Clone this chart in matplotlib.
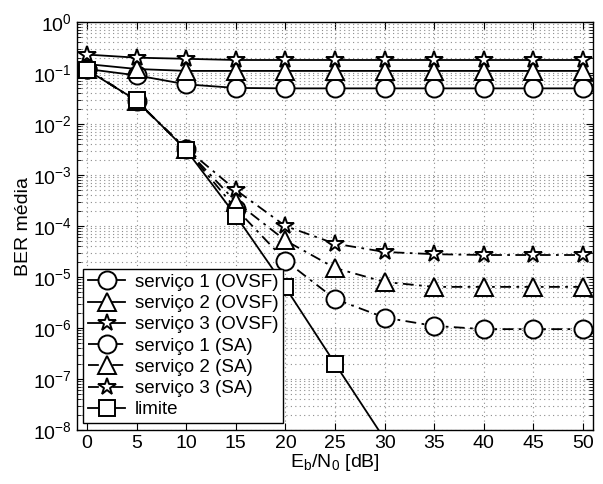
import matplotlib
matplotlib.use('Agg')
import matplotlib.pyplot as plt
import numpy as np

plt.rcParams['font.family'] = ['Liberation Sans', 'DejaVu Sans']
plt.rcParams['mathtext.fontset'] = 'custom'
plt.rcParams['mathtext.rm'] = 'Liberation Sans'

ebn0 = [0, 5, 10, 15, 20, 25, 30, 35, 40, 45, 50]

# OVSF
ovsf_s1 = [0.12, 0.09, 0.06, 0.051, 0.05, 0.05, 0.05, 0.05, 0.05, 0.05, 0.05]
ovsf_s2 = [0.15, 0.12, 0.11, 0.11, 0.11, 0.11, 0.11, 0.11, 0.11, 0.11, 0.11]
ovsf_s3 = [0.23, 0.2, 0.19, 0.18, 0.18, 0.18, 0.18, 0.18, 0.18, 0.18, 0.18]

# SA
sa_s1 = [0.12, 0.028, 0.0032, 2.2e-4, 2.1e-5, 3.7e-6, 1.6e-6, 1.1e-6, 9.5e-7, 9.5e-7, 9.5e-7]
sa_s2 = [0.12, 0.028, 0.0032, 3.0e-4, 5.2e-5, 1.5e-5, 8.0e-6, 6.4e-6, 6.4e-6, 6.4e-6, 6.4e-6]
sa_s3 = [0.12, 0.028, 0.0033, 5.1e-4, 1.0e-4, 4.5e-5, 3.1e-5, 2.8e-5, 2.7e-5, 2.7e-5, 2.7e-5]

# limite
lim_x = [0, 5, 10, 15, 20, 25, 30]
lim_y = [0.115, 0.029, 0.0031, 1.6e-4, 6.3e-6, 2.0e-7, 6.6e-9]

fig = plt.figure(figsize=(6.03, 4.84), dpi=100)
ax = fig.add_axes([0.1277, 0.1116, 0.8557, 0.8429])

mk = dict(markersize=13, markerfacecolor='white', markeredgecolor='black',
          markeredgewidth=1.4, color='black', linewidth=1.3)
dd = (0, (6, 3, 1.5, 3))

ax.semilogy(ebn0, ovsf_s1, '-', marker='o', label='serviço 1 (OVSF)', **mk)
ax.semilogy(ebn0, ovsf_s2, '-', marker='^', label='serviço 2 (OVSF)', **mk)
ax.semilogy(ebn0, ovsf_s3, '-', marker='*', label='serviço 3 (OVSF)', **mk)
ax.semilogy(ebn0, sa_s1, linestyle=dd, marker='o', label='serviço 1 (SA)', **mk)
ax.semilogy(ebn0, sa_s2, linestyle=dd, marker='^', label='serviço 2 (SA)', **mk)
ax.semilogy(ebn0, sa_s3, linestyle=dd, marker='*', label='serviço 3 (SA)', **mk)
ax.semilogy(lim_x, lim_y, '-', marker='s', label='limite', markersize=11,
            markerfacecolor='white', markeredgecolor='black',
            markeredgewidth=1.4, color='black', linewidth=1.3)

ax.set_xlim(-1, 51)
ax.set_ylim(1e-8, 1)
ax.set_xticks(np.arange(0, 51, 5))
ax.set_yticks([10.0 ** k for k in range(-8, 1)])

gs = dict(linestyle=(0, (1, 3)), color='#8c8c8c', linewidth=0.8)
ax.grid(True, which='major', axis='x', **gs)
ax.grid(True, which='both', axis='y', **gs)
ax.tick_params(which='both', direction='in', top=True, right=True, labelsize=14)
ax.tick_params(which='major', length=5)
ax.tick_params(which='minor', length=3)
for s in ax.spines.values():
    s.set_linewidth(1.0)

ax.set_xlabel('E$_\\mathregular{b}$/N$_\\mathregular{0}$ [dB]', fontsize=14, labelpad=0)
ax.set_ylabel('BER média', fontsize=14, labelpad=1)

leg = ax.legend(loc='lower left', bbox_to_anchor=(0.012, 0.017), fontsize=13.5,
                fancybox=False, edgecolor='black', framealpha=1, handlelength=2.0,
                borderpad=0.25, labelspacing=0.22, handletextpad=0.5, borderaxespad=0)
leg.get_frame().set_linewidth(1.0)

plt.savefig('out.png', dpi=100)
